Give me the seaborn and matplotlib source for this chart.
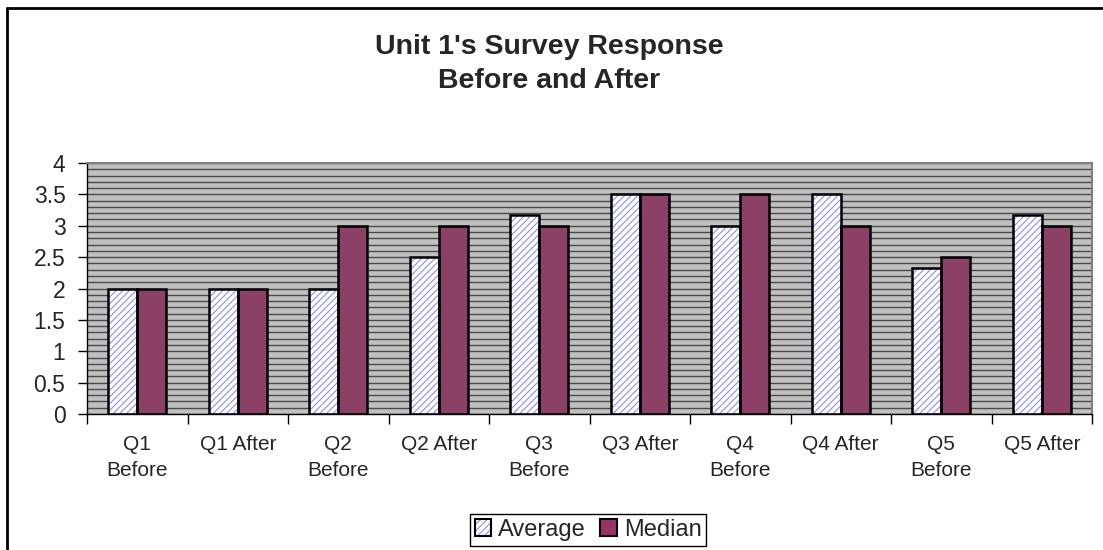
import pandas as pd
import matplotlib
matplotlib.use('Agg')
import matplotlib.pyplot as plt
import seaborn as sns
from matplotlib.patches import Patch, Rectangle
from matplotlib.ticker import MultipleLocator, FixedLocator, FuncFormatter
from matplotlib.lines import Line2D

questions = ['Q1\nBefore', 'Q1 After', 'Q2\nBefore', 'Q2 After', 'Q3\nBefore',
             'Q3 After', 'Q4\nBefore', 'Q4 After', 'Q5\nBefore', 'Q5 After']
average = [2, 2, 2, 2.5, 3.17, 3.5, 3, 3.5, 2.33, 3.17]
median = [2, 2, 3, 3, 3, 3.5, 3.5, 3, 2.5, 3]

df = pd.DataFrame({
    'Question': questions * 2,
    'Score': average + median,
    'Stat': ['Average'] * len(questions) + ['Median'] * len(questions),
})

sns.set_style('white')
plt.rcParams['font.family'] = ['Liberation Sans', 'DejaVu Sans']
plt.rcParams['hatch.linewidth'] = 0.8

fig = plt.figure(figsize=(11.03, 5.5), dpi=100)
ax = fig.add_axes([87 / 1103, 136 / 550, 1005 / 1103, 251 / 550])
ax.set_facecolor('#C0C0C0')

hatch_col = '#8C8CFF'
sns.barplot(data=df, x='Question', y='Score', hue='Stat', ax=ax,
            palette={'Average': 'white', 'Median': '#993366'},
            width=0.58, edgecolor='black', linewidth=1.8, legend=False)

# average bars: blue hatch inside, black outline on top
for bar in ax.containers[0]:
    bar.set_hatch('/////')
    bar.set_edgecolor(hatch_col)
    bar.set_linewidth(0)
    ax.add_patch(Rectangle(bar.get_xy(), bar.get_width(), bar.get_height(),
                           fill=False, edgecolor='black', linewidth=1.8, zorder=bar.get_zorder() + 0.1))

ax.set_xlim(-0.5, len(questions) - 0.5)
ax.set_ylim(0, 4)
ax.yaxis.set_major_locator(MultipleLocator(0.5))
ax.yaxis.set_minor_locator(MultipleLocator(0.1))
ax.yaxis.set_major_formatter(FuncFormatter(lambda v, p: f'{v:g}'))
ax.grid(axis='y', which='both', color='#4a4a4a', linewidth=1)
ax.set_axisbelow(True)

ax.xaxis.set_minor_locator(FixedLocator([i - 0.5 for i in range(len(questions) + 1)]))
ax.tick_params(axis='x', which='major', length=0, pad=15, labelsize=15)
ax.tick_params(axis='x', which='minor', length=7, width=1, color='black', direction='out')
ax.tick_params(axis='y', which='major', length=6.5, width=1, color='black', direction='out', labelsize=16.5, pad=9)
ax.tick_params(axis='y', which='minor', length=0)
ax.tick_params(axis='x', bottom=True, which='both')
ax.tick_params(axis='y', left=True, which='both')
for lbl in ax.get_xticklabels():
    lbl.set_linespacing(1.45)

ax.set_xlabel('')
ax.set_ylabel('')
for side in ['top', 'right']:
    ax.spines[side].set_color('#808080')
    ax.spines[side].set_linewidth(1.5)
for side in ['left', 'bottom']:
    ax.spines[side].set_color('black')
    ax.spines[side].set_linewidth(1)

fig.text(549 / 1103, 1 - 64 / 550, "Unit 1's Survey Response\nBefore and After",
         ha='center', va='center', fontsize=20.5, fontweight='bold', linespacing=1.35)

avg_handle = (Patch(facecolor='white', hatch='/////', edgecolor=hatch_col, linewidth=0),
              Patch(fill=False, edgecolor='black', linewidth=1.5))
med_handle = Patch(facecolor='#993366', edgecolor='black', linewidth=1.5)
leg = fig.legend([avg_handle, med_handle], ['Average', 'Median'], loc='center',
                 bbox_to_anchor=(588 / 1103, 1 - 530 / 550), ncol=2, fontsize=17,
                 handlelength=0.7, handleheight=0.7, handletextpad=0.3, columnspacing=0.6,
                 fancybox=False, edgecolor='black', framealpha=1, borderpad=0.2, borderaxespad=0)
leg.get_frame().set_linewidth(1)

# chart frame
fig.add_artist(Line2D([7 / 1103, 7 / 1103], [0, 1 - 8 / 550], color='black', linewidth=2, transform=fig.transFigure))
fig.add_artist(Line2D([7 / 1103, 1], [1 - 8 / 550, 1 - 8 / 550], color='black', linewidth=2, transform=fig.transFigure))

fig.savefig('out.png', dpi=100)
